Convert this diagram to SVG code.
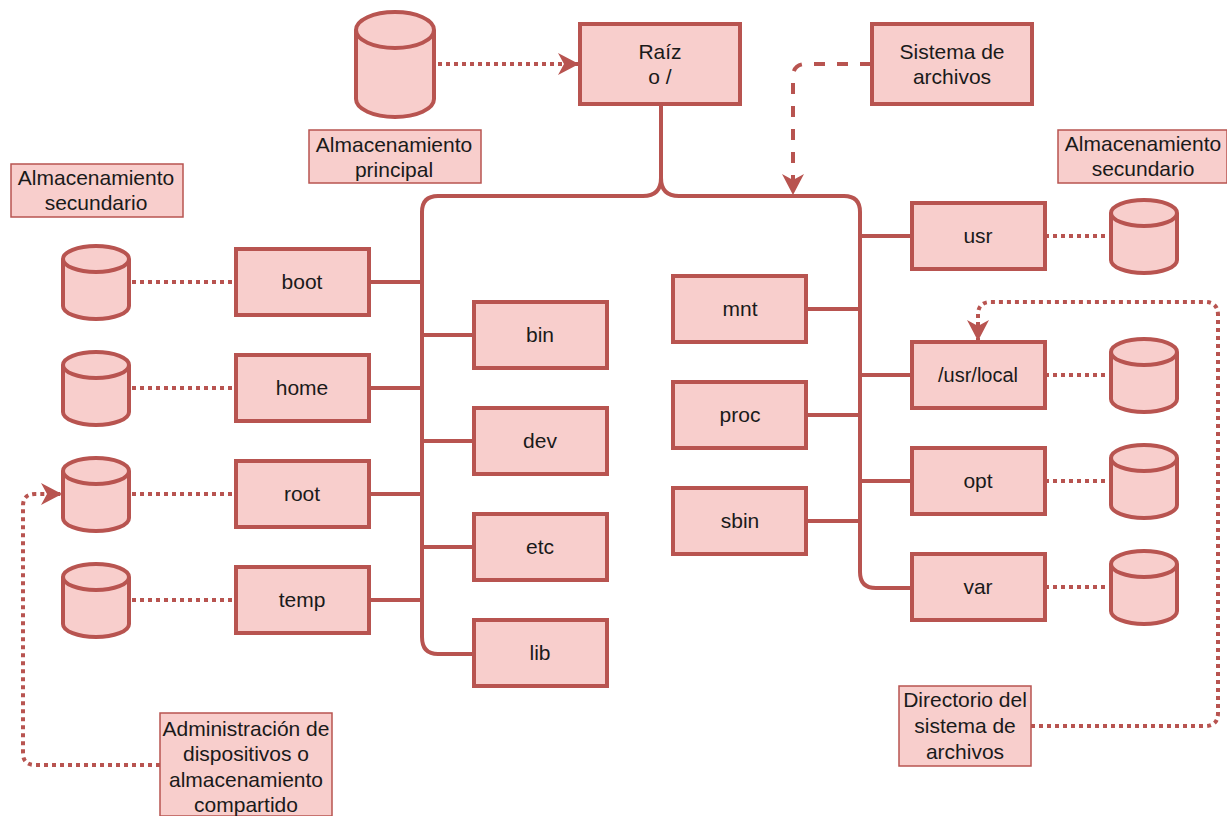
<svg xmlns="http://www.w3.org/2000/svg" width="1227" height="816" viewBox="0 0 1227 816">
<style>
.b{fill:#f8cecc;stroke:#b85450;stroke-width:4}
.n{fill:#f8cecc;stroke:#b85450;stroke-width:1.5}
.c{fill:#f8cecc;stroke:#b85450;stroke-width:4}
.t{font-family:"Liberation Sans",Arial,sans-serif;font-size:21px;fill:#1a1a1a;text-anchor:middle}
.l{fill:none;stroke:#b85450;stroke-width:4}
.d{fill:none;stroke:#b85450;stroke-width:4;stroke-dasharray:4 4}
.e{fill:none;stroke:#b85450;stroke-width:4;stroke-dasharray:11 12}
</style>
<defs>
<marker id="a" markerUnits="userSpaceOnUse" markerWidth="24" markerHeight="24" refX="22" refY="12" orient="auto"><path d="M1 1L22 12L1 23L7 12Z" fill="#b85450"/></marker>
<g id="cyl"><path class="c" d="M-33 -24V23A33 13 0 0 0 33 23V-24A33 13 0 0 0 -33 -24A33 13 0 0 0 33 -24"/></g>
</defs>
<g id="connectors">
<path class="l" d="M661 104V178Q661 196 643 196H438Q422 196 422 212V637Q422 654 438 654H474"/>
<path class="l" d="M661 178Q661 196 679 196H844Q860 196 860 212V572Q860 588 876 588H911"/>
<path class="l" d="M369 282H422M369 388H422M369 494H422M369 600H422M422 335H474M422 441H474M422 547H474M806 309H860M806 415H860M806 521H860M860 236H911M860 375H911M860 481H911"/>
<path class="d" d="M132 282H236M132 388H236M132 494H236M132 600H236M1045 236H1111M1045 375H1111M1045 481H1111M1045 587H1111"/>
<path class="d" marker-end="url(#a)" d="M438 64H579"/>
<path class="e" marker-end="url(#a)" d="M871 64H806Q793 64 793 77V195"/>
<path class="d" marker-end="url(#a)" d="M1031 726H1205Q1218 726 1218 713V315Q1218 302 1205 302H991Q978 302 978 315V341"/>
<path class="d" marker-end="url(#a)" d="M160 765H35Q23 765 23 753V506Q23 494 35 494H62"/>
</g>
<g id="n-cyl-main"><path class="c" d="M356 30V99A39 18 0 0 0 434 99V30A39 18 0 0 0 356 30A39 18 0 0 0 434 30"/></g>
<g id="n-raiz"><rect class="b" x="580" y="24" width="160" height="80"/><text class="t" x="660" y="59">Raíz</text><text class="t" x="660" y="84">o /</text></g>
<g id="n-sistema"><rect class="b" x="872" y="24" width="160" height="80"/><text class="t" x="952" y="59">Sistema de</text><text class="t" x="952" y="84">archivos</text></g>
<g id="n-principal"><rect class="n" x="309" y="130" width="172" height="53"/><text class="t" x="394" y="152">Almacenamiento</text><text class="t" x="394" y="177">principal</text></g>
<g id="n-sec-left"><rect class="n" x="11" y="164" width="172" height="53"/><text class="t" x="96" y="185">Almacenamiento</text><text class="t" x="96" y="210">secundario</text></g>
<g id="n-sec-right"><rect class="n" x="1058" y="130" width="169" height="53"/><text class="t" x="1143" y="151">Almacenamiento</text><text class="t" x="1143" y="176">secundario</text></g>
<g id="n-c1"><use href="#cyl" x="96" y="283"/></g>
<g id="n-c2"><use href="#cyl" x="96" y="389"/></g>
<g id="n-c3"><use href="#cyl" x="96" y="495"/></g>
<g id="n-c4"><use href="#cyl" x="96" y="601"/></g>
<g id="n-c5"><use href="#cyl" x="1144" y="237"/></g>
<g id="n-c6"><use href="#cyl" x="1144" y="376"/></g>
<g id="n-c7"><use href="#cyl" x="1144" y="482"/></g>
<g id="n-c8"><use href="#cyl" x="1144" y="588"/></g>
<g id="n-boot"><rect class="b" x="236" y="249" width="133" height="66"/><text class="t" x="302" y="289">boot</text></g>
<g id="n-home"><rect class="b" x="236" y="355" width="133" height="66"/><text class="t" x="302" y="395">home</text></g>
<g id="n-root"><rect class="b" x="236" y="461" width="133" height="66"/><text class="t" x="302" y="501">root</text></g>
<g id="n-temp"><rect class="b" x="236" y="567" width="133" height="66"/><text class="t" x="302" y="607">temp</text></g>
<g id="n-bin"><rect class="b" x="474" y="302" width="133" height="66"/><text class="t" x="540" y="342">bin</text></g>
<g id="n-dev"><rect class="b" x="474" y="408" width="133" height="66"/><text class="t" x="540" y="448">dev</text></g>
<g id="n-etc"><rect class="b" x="474" y="514" width="133" height="66"/><text class="t" x="540" y="554">etc</text></g>
<g id="n-lib"><rect class="b" x="474" y="620" width="133" height="66"/><text class="t" x="540" y="660">lib</text></g>
<g id="n-mnt"><rect class="b" x="673" y="276" width="133" height="66"/><text class="t" x="740" y="316">mnt</text></g>
<g id="n-proc"><rect class="b" x="673" y="382" width="133" height="66"/><text class="t" x="740" y="422">proc</text></g>
<g id="n-sbin"><rect class="b" x="673" y="488" width="133" height="66"/><text class="t" x="740" y="528">sbin</text></g>
<g id="n-usr"><rect class="b" x="912" y="203" width="133" height="66"/><text class="t" x="978" y="243">usr</text></g>
<g id="n-local"><rect class="b" x="912" y="342" width="133" height="66"/><text class="t" x="978" y="382" style="font-size:20px">/usr/local</text></g>
<g id="n-opt"><rect class="b" x="912" y="448" width="133" height="66"/><text class="t" x="978" y="488">opt</text></g>
<g id="n-var"><rect class="b" x="912" y="554" width="133" height="66"/><text class="t" x="978" y="594">var</text></g>
<g id="n-dir"><rect class="n" x="899" y="686" width="132" height="80"/><text class="t" x="965" y="707">Directorio del</text><text class="t" x="965" y="733">sistema de</text><text class="t" x="965" y="759">archivos</text></g>
<g id="n-admin"><rect class="n" x="160" y="713" width="172" height="103"/><text class="t" x="246" y="736">Administración de</text><text class="t" x="246" y="761">dispositivos o</text><text class="t" x="246" y="787">almacenamiento</text><text class="t" x="246" y="812">compartido</text></g>
</svg>
